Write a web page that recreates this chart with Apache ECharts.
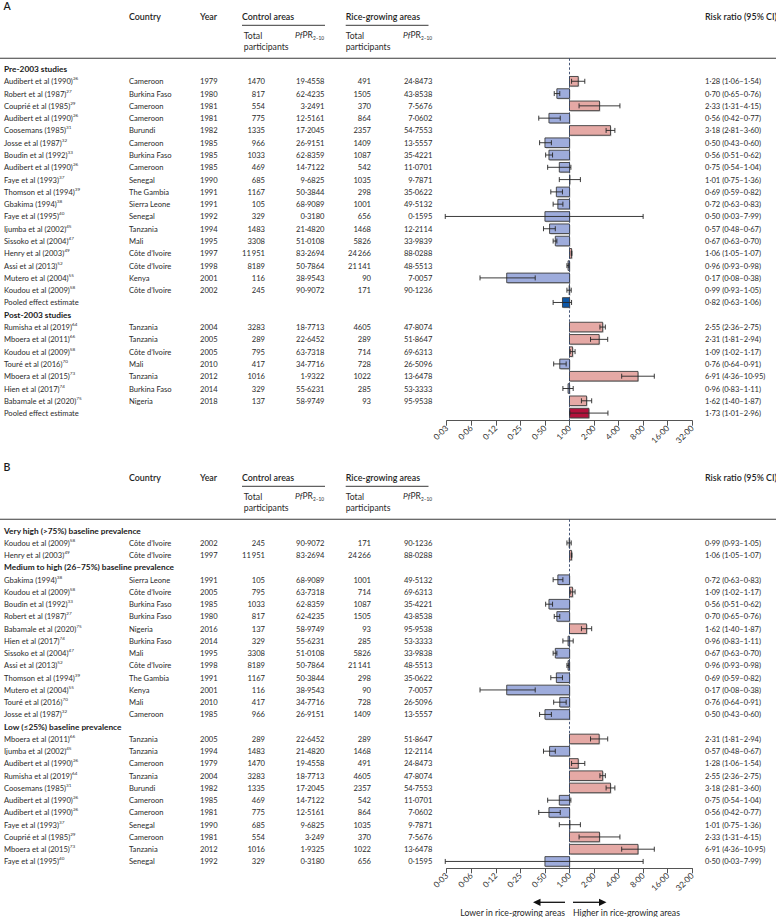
<!DOCTYPE html>
<html><head><meta charset="utf-8">
<script src="https://cdn.jsdelivr.net/npm/echarts@6/dist/echarts.min.js"></script>
<style>html,body{margin:0;padding:0;background:#fff}#c{width:776px;height:917px}</style>
</head><body><div id="c"></div><script>
// ---------- shared labels ----------
const tickLabels = ['0·03','0·06','0·12','0·25','0·50','1·00','2·00','4·00','8·00','16·00','32·00'];
const headerLabels = ['Country','Year','Control areas','Rice-growing areas','Risk ratio (95% CI)'];
const subHeaderLabels = ['Total','participants'];
const arrowLabels = ['Lower in rice-growing areas','Higher in rice-growing areas'];
const panelLetters = ['A','B'];

// ---------- panel A ----------
const studyA = ['Pre-2003 studies','Audibert et al (1990)','Robert et al (1987)','Couprié et al (1985)','Audibert et al (1990)','Coosemans (1985)','Josse et al (1987)','Boudin et al (1992)','Audibert et al (1990)','Faye et al (1993)','Thomson et al (1994)','Gbakima (1994)','Faye et al (1995)','Ijumba et al (2002)','Sissoko et al (2004)','Henry et al (2003)','Assi et al (2013)','Mutero et al (2004)','Koudou et al (2009)','Pooled effect estimate','Post-2003 studies','Rumisha et al (2019)','Mboera et al (2011)','Koudou et al (2009)','Touré et al (2016)','Mboera et al (2015)','Hien et al (2017)','Babamale et al (2020)','Pooled effect estimate'];
const refA = ['',26,27,29,26,31,32,33,26,37,39,38,40,45,47,49,52,55,58,'','',64,66,58,70,73,74,75,''];
const kindA = ['group','study','study','study','study','study','study','study','study','study','study','study','study','study','study','study','study','study','study','pooled','group','study','study','study','study','study','study','study','pooled'];
const countryA = ['','Cameroon','Burkina Faso','Cameroon','Cameroon','Burundi','Cameroon','Burkina Faso','Cameroon','Senegal','The Gambia','Sierra Leone','Senegal','Tanzania','Mali','Côte d’Ivoire','Côte d’Ivoire','Kenya','Côte d’Ivoire','','','Tanzania','Tanzania','Côte d’Ivoire','Mali','Tanzania','Burkina Faso','Nigeria',''];
const yearA = [null,1979,1980,1981,1981,1982,1985,1985,1985,1990,1991,1991,1992,1994,1995,1997,1998,2001,2002,null,null,2004,2005,2005,2010,2012,2014,2018,null];
const ctrlNA = [null,1470,817,554,775,1335,966,1033,469,685,1167,105,329,1483,3308,11951,8189,116,245,null,null,3283,289,795,417,1016,329,137,null];
const ctrlPfA = ['','19·4558','62·4235','3·2491','12·5161','17·2045','26·9151','62·8359','14·7122','9·6825','50·3844','68·9089','0·3180','21·4820','51·0108','83·2694','50·7864','38·9543','90·9072','','','18·7713','22·6452','63·7318','34·7716','1·9322','55·6231','58·9749',''];
const riceNA = [null,491,1505,370,864,2357,1409,1087,542,1035,298,1001,656,1468,5826,24266,21141,90,171,null,null,4605,289,714,728,1022,285,93,null];
const ricePfA = ['','24·8473','43·8538','7·5676','7·0602','54·7553','13·5557','35·4221','11·0701','9·7871','35·0622','49·5132','0·1595','12·2114','33·9839','88·0288','48·5513','7·0057','90·1236','','','47·8074','51·8647','69·6313','26·5096','13·6478','53·3333','95·9538',''];
const rrA = [null,1.28,0.70,2.33,0.56,3.18,0.50,0.56,0.75,1.01,0.69,0.72,0.50,0.57,0.67,1.06,0.96,0.17,0.99,0.82,null,2.55,2.31,1.09,0.76,6.91,0.96,1.62,1.73];
const loA = [null,1.06,0.65,1.31,0.42,2.81,0.43,0.51,0.54,0.75,0.59,0.63,0.03,0.48,0.63,1.05,0.93,0.08,0.93,0.63,null,2.36,1.81,1.02,0.64,4.36,0.83,1.40,1.01];
const hiA = [null,1.54,0.76,4.15,0.77,3.60,0.60,0.62,1.04,1.36,0.82,0.83,7.99,0.67,0.70,1.07,0.98,0.38,1.05,1.06,null,2.75,2.94,1.17,0.91,10.95,1.11,1.87,2.96];

// ---------- panel B ----------
const studyB = ['Very high (>75%) baseline prevalence','Koudou et al (2009)','Henry et al (2003)','Medium to high (26–75%) baseline prevalence','Gbakima (1994)','Koudou et al (2009)','Boudin et al (1992)','Robert et al (1987)','Babamale et al (2020)','Hien et al (2017)','Sissoko et al (2004)','Assi et al (2013)','Thomson et al (1994)','Mutero et al (2004)','Touré et al (2016)','Josse et al (1987)','Low (≤25%) baseline prevalence','Mboera et al (2011)','Ijumba et al (2002)','Audibert et al (1990)','Rumisha et al (2019)','Coosemans (1985)','Audibert et al (1990)','Audibert et al (1990)','Faye et al (1993)','Couprié et al (1985)','Mboera et al (2015)','Faye et al (1995)'];
const refB = ['',58,49,'',38,58,33,27,75,74,47,52,39,55,70,32,'',66,45,26,64,31,26,26,37,29,73,40];
const kindB = ['group','study','study','group','study','study','study','study','study','study','study','study','study','study','study','study','group','study','study','study','study','study','study','study','study','study','study','study'];
const countryB = ['','Côte d’Ivoire','Côte d’Ivoire','','Sierra Leone','Côte d’Ivoire','Burkina Faso','Burkina Faso','Nigeria','Burkina Faso','Mali','Côte d’Ivoire','The Gambia','Kenya','Mali','Cameroon','','Tanzania','Tanzania','Cameroon','Tanzania','Burundi','Cameroon','Cameroon','Senegal','Cameroon','Tanzania','Senegal'];
const yearB = [null,2002,1997,null,1991,2005,1985,1980,2016,2014,1995,1998,1991,2001,2010,1985,null,2005,1994,1979,2004,1982,1985,1981,1990,1981,2012,1992];
const ctrlNB = [null,245,11951,null,105,795,1033,817,137,329,3308,8189,1167,116,417,966,null,289,1483,1470,3283,1335,469,775,685,554,1016,329];
const ctrlPfB = ['','90·9072','83·2694','','68·9089','63·7318','62·8359','62·4235','58·9749','55·6231','51·0108','50·7864','50·3844','38·9543','34·7716','26·9151','','22·6452','21·4820','19·4558','18·7713','17·2045','14·7122','12·5161','9·6825','3·249','1·9325','0·3180'];
const riceNB = [null,171,24266,null,1001,714,1087,1505,93,285,5826,21141,298,90,728,1409,null,289,1468,491,4605,2357,542,864,1035,370,1022,656];
const ricePfB = ['','90·1236','88·0288','','49·5132','69·6313','35·4221','43·8538','95·9538','53·3333','33·9838','48·5513','35·0622','7·0057','26·5096','13·5557','','51·8647','12·2114','24·8473','47·8074','54·7553','11·0701','7·0602','9·7871','7·5676','13·6478','0·1595'];
const rrB = [null,0.99,1.06,null,0.72,1.09,0.56,0.70,1.62,0.96,0.67,0.96,0.69,0.17,0.76,0.50,null,2.31,0.57,1.28,2.55,3.18,0.75,0.56,1.01,2.33,6.91,0.50];
const loB = [null,0.93,1.05,null,0.63,1.02,0.51,0.65,1.40,0.83,0.63,0.93,0.59,0.08,0.64,0.43,null,1.81,0.48,1.06,2.36,2.81,0.54,0.42,0.75,1.31,4.36,0.03];
const hiB = [null,1.05,1.07,null,0.83,1.17,0.62,0.76,1.87,1.11,0.70,0.98,0.82,0.38,0.91,0.60,null,2.94,0.67,1.54,2.75,3.60,1.04,0.77,1.36,4.15,10.95,7.99];

// ---------- build ----------
const FONT = 'Lato, "Noto Sans", sans-serif';
const TXT = '#2b2b2b';
const panels = [
  {study:studyA, ref:refA, kind:kindA, country:countryA, year:yearA, ctrlN:ctrlNA, ctrlPf:ctrlPfA, riceN:riceNA, ricePf:ricePfA, rr:rrA, lo:loA, hi:hiA},
  {study:studyB, ref:refB, kind:kindB, country:countryB, year:yearB, ctrlN:ctrlNB, ctrlPf:ctrlPfB, riceN:riceNB, ricePf:ricePfB, rr:rrB, lo:loB, hi:hiB}
];
const layout = [
  {dy:0, top:58.3, height:362.4, ymin:-0.87, ymax:28.62},
  {dy:461, top:519.3, height:349, ymin:-0.93, ymax:27.56}
];
const fmtN = n => n >= 10000 ? String(n).replace(/(\d+)(\d{3})$/, '$1\u2009$2') : String(n);
const fmtD = v => v.toFixed(2).replace('.', '·');
const RICH_REF = {
  n:{fontSize:7.6, fontFamily:FONT, lineHeight:11, fill:TXT},
  s:{fontSize:4.6, fontFamily:FONT, lineHeight:5, verticalAlign:'top', fill:TXT}
};

function textRender(P){
  return function(params, api){
    const i = params.dataIndex;
    const y = api.coord([0, i])[1];
    const kids = [];
    const base = {fontFamily:FONT, fontSize:7.6, fill:TXT, verticalAlign:'middle'};
    const T = (text, x, align, extra) => kids.push({type:'text', style:Object.assign({}, base, {text:text, x:x, y:y, align:align}, extra || {})});
    const k = P.kind[i];
    if (k === 'group') T(P.study[i], 4, 'left', {fontWeight:'bold', fontSize:8.3, fill:'#1a1a1a'});
    else if (k === 'pooled') T(P.study[i], 4, 'left');
    else T('{n|' + P.study[i] + '}{s|' + P.ref[i] + '}', 4, 'left', {rich:RICH_REF});
    if (k === 'study') {
      T(P.country[i], 129, 'left');
      T(String(P.year[i]), 200, 'left');
      T(fmtN(P.ctrlN[i]), 265, 'right');
      T(P.ctrlPf[i], 324.5, 'right');
      T(fmtN(P.riceN[i]), 371, 'right');
      T(P.ricePf[i], 432.3, 'right');
    }
    if (P.rr[i] != null) T(fmtD(P.rr[i]) + ' (' + fmtD(P.lo[i]) + '–' + fmtD(P.hi[i]) + ')', 705, 'left');
    return {type:'group', children:kids};
  };
}

function barRender(params, api){
  const v = api.value(0), row = api.value(1), pooled = api.value(2);
  const p0 = api.coord([0, row]), p1 = api.coord([v, row]);
  const h = 9.6;
  const x = Math.min(p0[0], p1[0]), w = Math.max(Math.abs(p1[0] - p0[0]), 0.4);
  let fill;
  if (pooled) fill = v < 0 ? '#0d57a7' : '#b3113c';
  else fill = v < 0 ? '#9eacdc' : '#e5a9a5';
  return {type:'group', children:[
    {type:'rect', shape:{x:x + 1, y:p0[1] - h/2 + 1, width:w, height:h}, style:{fill:'rgba(0,0,0,0.22)'}},
    {type:'rect', shape:{x:x, y:p0[1] - h/2, width:w, height:h}, style:{fill:fill, stroke:'#3c3c3c', lineWidth:0.9}}
  ]};
}

function errRender(params, api){
  const a = api.coord([api.value(0), api.value(2)]);
  const b = api.coord([api.value(1), api.value(2)]);
  const c = 2.5, st = {stroke:'#262626', lineWidth:0.9};
  return {type:'group', children:[
    {type:'line', shape:{x1:a[0], y1:a[1], x2:b[0], y2:b[1]}, style:st},
    {type:'line', shape:{x1:a[0], y1:a[1] - c, x2:a[0], y2:a[1] + c}, style:st},
    {type:'line', shape:{x1:b[0], y1:b[1] - c, x2:b[0], y2:b[1] + c}, style:st}
  ]};
}

const grids = [], xAxes = [], yAxes = [], series = [];
panels.forEach((P, idx) => {
  const L = layout[idx];
  grids.push({left:446.7, right:83.7, top:L.top, height:L.height, containLabel:false});
  xAxes.push({type:'value', gridIndex:idx, position:'bottom', min:-5, max:5, interval:1,
    axisLine:{show:true, onZero:false, lineStyle:{color:'#555', width:1}},
    axisTick:{show:true, length:5, lineStyle:{color:'#555', width:1}},
    splitLine:{show:false},
    axisLabel:{rotate:45, margin:6, fontSize:8.3, fontFamily:FONT, color:'#333', formatter:v => tickLabels[Math.round(v) + 5]}});
  yAxes.push({type:'value', gridIndex:idx, inverse:true, min:L.ymin, max:L.ymax, show:false, axisLine:{onZero:false}});
  const barData = [], errData = [];
  P.rr.forEach((r, i) => {
    if (r == null) return;
    barData.push([Math.log2(r), i, P.kind[i] === 'pooled' ? 1 : 0]);
    errData.push([Math.log2(P.lo[i]), Math.log2(P.hi[i]), i]);
  });
  series.push({type:'custom', xAxisIndex:idx, yAxisIndex:idx, renderItem:barRender, data:barData, encode:{x:0, y:1}, z:2});
  series.push({type:'custom', xAxisIndex:idx, yAxisIndex:idx, renderItem:errRender, data:errData, encode:{x:[0,1], y:2}, z:4,
    markLine:{silent:true, symbol:'none', label:{show:false}, lineStyle:{color:'#34466b', type:[2.5,2], width:0.9}, data:[{xAxis:0}], z:3}});
  series.push({type:'custom', xAxisIndex:idx, yAxisIndex:idx, renderItem:textRender(P), data:P.study.map((s, i) => [0, i]), encode:{x:0, y:1}, z:5});
});

// ---------- static header decorations ----------
const graphics = [];
const HB = {fontFamily:FONT, fontSize:8.9, fontWeight:600, fill:'#1f1f1f', verticalAlign:'middle'};
const HR = {fontFamily:FONT, fontSize:8.7, fill:TXT, verticalAlign:'middle'};
const PF_RICH = {
  i:{fontFamily:FONT, fontSize:8.5, fontStyle:'italic', lineHeight:11, fill:TXT},
  r:{fontFamily:FONT, fontSize:8.5, lineHeight:11, fill:TXT},
  s:{fontFamily:FONT, fontSize:4.8, lineHeight:5, verticalAlign:'bottom', fill:TXT}
};
function txt(text, x, y, st){ graphics.push({type:'text', silent:true, style:Object.assign({}, st, {text:text, x:x, y:y})}); }
function ln(x1, y1, x2, y2, w, c){ graphics.push({type:'line', silent:true, shape:{x1:x1, y1:y1, x2:x2, y2:y2}, style:{stroke:c || '#3a3a3a', lineWidth:w || 1}}); }
layout.forEach((L, idx) => {
  const d = L.dy;
  txt(panelLetters[idx], 3.5, 5.5 + d, {fontFamily:FONT, fontSize:10.5, fontWeight:600, fill:'#1a1a1a', verticalAlign:'middle'});
  txt(headerLabels[0], 129, 16.7 + d, HB);
  txt(headerLabels[1], 200, 16.7 + d, HB);
  txt(headerLabels[2], 242, 16.7 + d, HB);
  txt(headerLabels[3], 345.7, 16.7 + d, HB);
  txt(headerLabels[4], 705, 16.7 + d, HB);
  ln(242, 25.3 + d, 325, 25.3 + d, 1);
  ln(345.7, 25.3 + d, 428.5, 25.3 + d, 1);
  [243.8, 345.7].forEach(x => {
    txt(subHeaderLabels[0], x, 35 + d, HR);
    txt(subHeaderLabels[1], x, 46.7 + d, HR);
  });
  txt('{i|Pf}{r|PR}{s|2–10}', 295, 34.5 + d, {fontFamily:FONT, fontSize:8.5, fill:TXT, verticalAlign:'middle', rich:PF_RICH});
  txt('{i|Pf}{r|PR}{s|2–10}', 403, 34.5 + d, {fontFamily:FONT, fontSize:8.5, fill:TXT, verticalAlign:'middle', rich:PF_RICH});
  ln(0, 58.3 + d, 776, 58.3 + d, 1.1);
});
// direction arrows under panel B
const ay = 902.3;
ln(565, ay, 539, ay, 1.3, '#111');
graphics.push({type:'polygon', silent:true, shape:{points:[[533,ay],[540.5,ay-3.6],[540.5,ay+3.6]]}, style:{fill:'#111'}});
ln(573, ay, 600, ay, 1.3, '#111');
graphics.push({type:'polygon', silent:true, shape:{points:[[606.5,ay],[599,ay-3.6],[599,ay+3.6]]}, style:{fill:'#111'}});
txt(arrowLabels[0], 565, 912.7, {fontFamily:FONT, fontSize:8.7, fill:'#1f1f1f', verticalAlign:'middle', align:'right'});
txt(arrowLabels[1], 573, 912.7, {fontFamily:FONT, fontSize:8.7, fill:'#1f1f1f', verticalAlign:'middle', align:'left'});

const chart = echarts.init(document.getElementById('c'), null, {renderer:'svg', width:776, height:917});
chart.setOption({
  animation:false,
  backgroundColor:'#fff',
  grid:grids, xAxis:xAxes, yAxis:yAxes, series:series,
  graphic:{elements:graphics}
});
</script></body></html>
